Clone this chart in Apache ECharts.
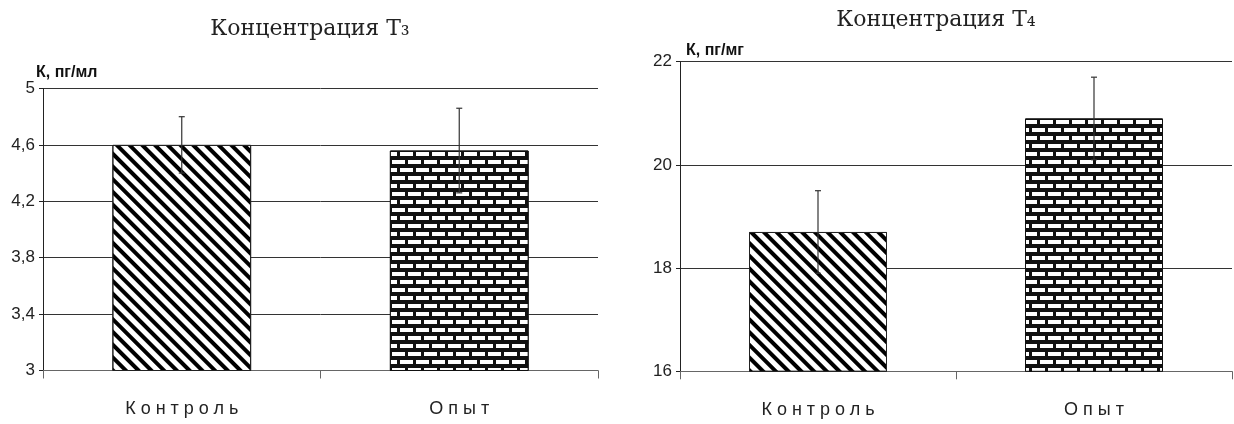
<!DOCTYPE html>
<html>
<head>
<meta charset="utf-8">
<script src="https://cdn.jsdelivr.net/npm/echarts@6/dist/echarts.min.js"></script>
<style>
html,body{margin:0;padding:0;background:#fff;}
#chart{width:1234px;height:424px;}
</style>
</head>
<body>
<div id="chart"></div>
<script>
// ---- data ----
const categories = ['Контроль', 'Опыт'];
const t3Values = [4.6, 4.56];
const t3Errors = [0.2, 0.3];
const t4Values = [18.7, 20.9];
const t4Errors = [0.8, 0.8];
const t3Title = 'Концентрация T₃';
const t4Title = 'Концентрация T₄';
const t3AxisName = 'К, пг/мл';
const t4AxisName = 'К, пг/мг';

// letter-spaced category labels (as in the reference)
(function () {
  const proto = CanvasRenderingContext2D.prototype;
  const orig = proto.fillText;
  proto.fillText = function (t, x, y, w) {
    const spaced = categories.indexOf(t) >= 0;
    if ('letterSpacing' in this) this.letterSpacing = spaced ? '5px' : '0px';
    if (w === undefined) orig.call(this, t, spaced ? x + 2.5 : x, y);
    else orig.call(this, t, spaced ? x + 2.5 : x, y, w);
    if ('letterSpacing' in this) this.letterSpacing = '0px';
  };
})();

const stripeDecal = {
  symbol: 'rect', symbolSize: 1, color: '#000',
  dashArrayX: [1, 0], dashArrayY: [4, 5], rotation: Math.PI / 4
};
const brickDecal = {
  symbol: 'rect', symbolSize: 1, color: '#fff',
  dashArrayX: [[13, 3], [5, 3, 8, 0]], dashArrayY: [4, 4], rotation: 0
};
const barStyles = [
  { color: '#fff', borderColor: '#222', borderWidth: 1, decal: stripeDecal },
  { color: '#111', borderColor: '#111', borderWidth: 1, decal: brickDecal }
];

const sansNarrow = "'Liberation Sans Narrow', 'Arial Narrow', 'Liberation Sans', Arial, sans-serif";
const serif = 'DejaVu Serif';
const fmt = v => String(+(+v).toFixed(1)).replace('.', ',');

function barData(vals) {
  return vals.map((v, i) => ({ value: v, itemStyle: barStyles[i] }));
}
function errData(vals, errs) {
  return vals.map((v, i) => [i, v - errs[i], v + errs[i]]);
}
function renderErr(params, api) {
  const x = api.value(0);
  const lo = api.coord([x, api.value(1)]);
  const hi = api.coord([x, api.value(2)]);
  const c = 3;
  const st = { stroke: '#333', lineWidth: 1.2 };
  return {
    type: 'group',
    children: [
      { type: 'line', shape: { x1: hi[0], y1: hi[1], x2: lo[0], y2: lo[1] }, style: st },
      { type: 'line', shape: { x1: hi[0] - c, y1: hi[1], x2: hi[0] + c, y2: hi[1] }, style: st },
      { type: 'line', shape: { x1: lo[0] - c, y1: lo[1], x2: lo[0] + c, y2: lo[1] }, style: st }
    ]
  };
}

function xAxis(gi) {
  return {
    type: 'category', gridIndex: gi, data: categories,
    axisLine: { lineStyle: { color: '#666', width: 1 } },
    axisTick: { show: true, length: 8, lineStyle: { color: '#666' } },
    axisLabel: { margin: 30, fontSize: 18, color: '#222', fontFamily: sansNarrow }
  };
}
function yAxis(gi, min, max, interval, name, padLeft) {
  return {
    type: 'value', gridIndex: gi, min: min, max: max, interval: interval,
    name: name, nameLocation: 'end', nameGap: 3,
    nameTextStyle: { align: 'left', verticalAlign: 'bottom', fontWeight: 'bold', fontSize: 16,
      color: '#111', fontFamily: sansNarrow, padding: [0, 0, 0, padLeft] },
    axisLine: { show: true, lineStyle: { color: '#222', width: 1 } },
    axisTick: { show: true, length: 4, lineStyle: { color: '#222' } },
    axisLabel: { margin: 8, fontSize: 17, color: '#222', fontFamily: sansNarrow, formatter: fmt },
    splitLine: { show: true, lineStyle: { color: '#333', width: 1 } }
  };
}

const chart = echarts.init(document.getElementById('chart'), null, { renderer: 'canvas' });
chart.setOption({
  backgroundColor: '#fff',
  animation: false,
  title: [
    { text: t3Title, left: 305, top: 13, textAlign: 'center',
      textStyle: { fontFamily: serif, fontWeight: 'normal', fontSize: 22, color: '#222' } },
    { text: t4Title, left: 931, top: 4, textAlign: 'center',
      textStyle: { fontFamily: serif, fontWeight: 'normal', fontSize: 22, color: '#222' } }
  ],
  grid: [
    { left: 43, right: 636, top: 88.5, bottom: 53.5 },
    { left: 680, right: 2, top: 61.7, bottom: 52.7 }
  ],
  xAxis: [xAxis(0), xAxis(1)],
  yAxis: [
    yAxis(0, 3, 5, 0.4, t3AxisName, -7),
    yAxis(1, 16, 22, 2, t4AxisName, 6)
  ],
  series: [
    { type: 'bar', xAxisIndex: 0, yAxisIndex: 0, barWidth: '50%', data: barData(t3Values), z: 2 },
    { type: 'custom', xAxisIndex: 0, yAxisIndex: 0, renderItem: renderErr, data: errData(t3Values, t3Errors), z: 5 },
    { type: 'bar', xAxisIndex: 1, yAxisIndex: 1, barWidth: '50%', data: barData(t4Values), z: 2 },
    { type: 'custom', xAxisIndex: 1, yAxisIndex: 1, renderItem: renderErr, data: errData(t4Values, t4Errors), z: 5 }
  ]
});
</script>
</body>
</html>
